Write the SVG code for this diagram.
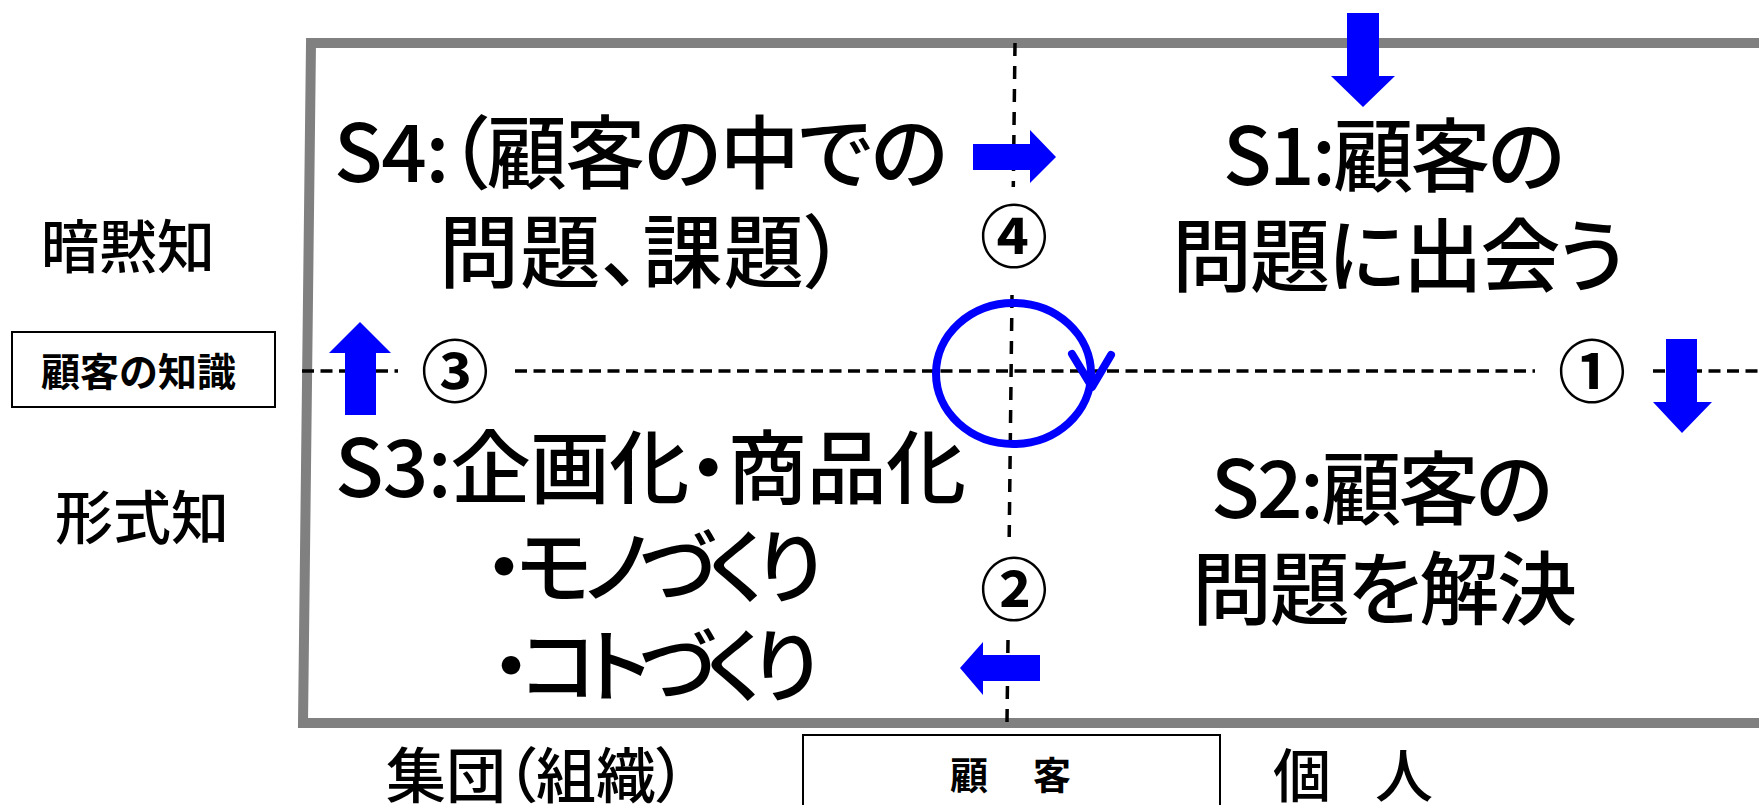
<svg xmlns="http://www.w3.org/2000/svg" width="1759" height="805" viewBox="0 0 1759 805">
<style>
  text { font-family: "Noto Sans CJK JP", "Noto Sans CJK SC", sans-serif; fill: #000; }
  .q { font-size: 80px; font-weight: 500; font-feature-settings: "palt"; }
  .side { font-size: 58px; font-weight: 500; }
  .box { fill: #fff; stroke: #000; stroke-width: 2; }
  .bl { font-size: 39px; font-weight: bold; }
  .num { font-size: 68px; font-weight: bold; text-anchor: middle; }
  .dash { stroke: #000; stroke-width: 3.5; fill: none; }
  .h { stroke-dasharray: 12 6.5; }
  .v { stroke-dasharray: 13 10; }
  .arr { fill: #0000FF; }
</style>
<rect width="1759" height="805" fill="#fff"/>

<g id="frame">
  <polyline points="1759,43 311,43 303,723 1759,723" fill="none" stroke="#808080" stroke-width="10"/>
</g>

<g id="connectors">
  <line class="dash h" x1="302" y1="371" x2="398" y2="371"/>
  <line class="dash h" x1="515" y1="371" x2="1535" y2="371"/>
  <line class="dash h" x1="1653" y1="371" x2="1759" y2="371"/>
  <line class="dash v" x1="1015" y1="43" x2="1013.3" y2="187"/>
  <line class="dash v" x1="1012" y1="295" x2="1009.2" y2="537"/>
  <line class="dash v" x1="1008" y1="640" x2="1007" y2="722"/>
  <polygon class="arr" points="1347,13 1379,13 1379,76 1395,76 1363,107 1331,76 1347,76"/>
  <polygon class="arr" points="1666,339 1697,339 1697,402 1712,402 1682,433 1653,402 1666,402"/>
  <polygon class="arr" points="973,144 1030,144 1030,130 1056,157 1030,183 1030,170 973,170"/>
  <polygon class="arr" points="360,322 391,353 376,353 376,415 345,415 345,353 329,353"/>
  <polygon class="arr" points="960,668 983,642 983,655 1040,655 1040,681 983,681 983,695"/>
  <g id="cycle" fill="none" stroke="#0000FF" stroke-width="8" stroke-linecap="round" stroke-linejoin="round">
    <ellipse cx="1013.5" cy="373.5" rx="77.5" ry="70.5"/>
    <polyline points="1072,354 1092,387 1111,355"/>
  </g>
</g>

<g id="s4">
  <text class="q" x="334" y="182" textLength="614">S4:（顧客の中での</text>
  <text class="q" x="439" y="281" textLength="406">問題、課題）</text>
</g>
<g id="s1">
  <text class="q" x="1223" y="185" textLength="342">S1:顧客の</text>
  <text class="q" x="1172" y="285" textLength="453">問題に出会う</text>
</g>
<g id="s2">
  <text class="q" x="1211" y="518" textLength="342">S2:顧客の</text>
  <text class="q" x="1192" y="618" textLength="385">問題を解決</text>
</g>
<g id="s3">
  <text class="q" x="335" y="497" textLength="631">S3:企画化・商品化</text>
  <text class="q" x="484" y="596" textLength="339">・モノづくり</text>
  <text class="q" x="491" y="695" textLength="328">・コトづくり</text>
</g>

<g id="num4"><text class="num" x="1014" y="262">④</text></g>
<g id="num3"><text class="num" x="455" y="397">③</text></g>
<g id="num2"><text class="num" x="1014" y="615">②</text></g>
<g id="num1"><text class="num" x="1592" y="397">①</text></g>

<g id="tacit"><text class="side" x="41" y="268">暗黙知</text></g>
<g id="explicit"><text class="side" x="55" y="539">形式知</text></g>
<g id="knowledge">
  <rect class="box" x="12" y="332" width="263" height="75"/>
  <text class="bl" x="41" y="386">顧客の知識</text>
</g>
<g id="group"><text class="side" x="386" y="798" style="font-size:60px;font-feature-settings:'palt'">集団（組織）</text></g>
<g id="customer">
  <rect class="box" x="803" y="735" width="417" height="80"/>
  <text style="font-size:38px;font-weight:bold" x="950 991 1033" y="789">顧　客</text>
</g>
<g id="individual"><text class="side" x="1273 1325 1375" y="797">個　人</text></g>
</svg>
